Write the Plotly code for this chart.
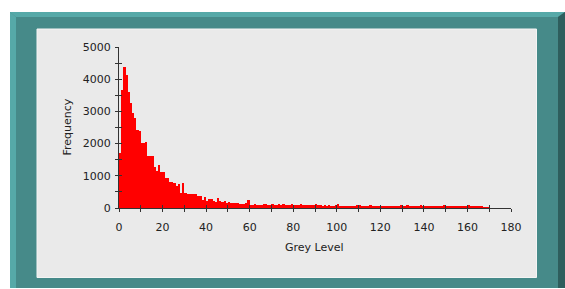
import plotly.graph_objects as go

# ---------------- data ----------------
grey_levels = list(range(0, 170))
frequency = [
    1700, 3660, 4390, 4130, 3610, 3250, 2940, 2785, 2420, 2400,   # 0-9
    2010, 2010, 2060, 1615, 1600, 1615, 1285, 1150, 1335, 1120,   # 10-19
    1110, 920, 920, 820, 820, 790, 680, 760, 470, 780,            # 20-29
    470, 430, 440, 420, 420, 420, 370, 380, 250, 350,             # 30-39
    230, 270, 290, 220, 200, 300, 210, 180, 210, 140,             # 40-49
    200, 160, 160, 160, 160, 135, 135, 135, 160, 250,             # 50-59
    100, 95, 135, 95, 105, 95, 125, 125, 100, 90,                 # 60-69
    125, 90, 90, 125, 90, 120, 90, 85, 90, 120,                   # 70-79
    85, 80, 85, 120, 80, 80, 85, 80, 80, 80,                      # 80-89
    115, 80, 80, 75, 80, 75, 80, 75, 75, 80,                      # 90-99
    110, 70, 65, 70, 65, 65, 70, 65, 65, 100,                     # 100-109
    100, 65, 65, 60, 65, 100, 65, 60, 60, 65,                     # 110-119
    60, 60, 65, 60, 60, 60, 65, 60, 60, 100,                      # 120-129
    60, 60, 100, 60, 60, 55, 60, 60, 100, 60,                     # 130-139
    55, 55, 60, 55, 55, 55, 55, 55, 55, 95,                       # 140-149
    55, 50, 50, 50, 50, 50, 50, 50, 50, 50,                       # 150-159
    90, 50, 45, 45, 45, 45, 40, 30, 25, 20,                       # 160-169
]

x_tick_values = list(range(0, 181, 10))
x_tick_labels = [str(v) if v % 20 == 0 else "" for v in x_tick_values]
y_tick_values = list(range(0, 5001, 500))
y_tick_labels = [str(v) if v % 1000 == 0 else "" for v in y_tick_values]

x_title = "Grey Level"
y_title = "Frequency"

# ---------------- layout geometry (pixels) ----------------
W, H = 565, 289
PL, PR, PT, PB = 119, 511, 47, 208   # plot area in pixels

def xp(px):
    return (px - PL) / (PR - PL)

def yp(py):
    return (PB - py) / (PB - PT)

TEAL = "#468A89"
TEAL_LIGHT = "#56A9A8"
TEAL_DARK = "#2E5E5D"
PANEL = "#EAEAEA"
FONT = "DejaVu Sans"
INK = "#222222"

def poly(points, color):
    d = "M " + " L ".join(f"{xp(a):.5f},{yp(b):.5f}" for a, b in points) + " Z"
    return dict(type="path", xref="paper", yref="paper", path=d,
                fillcolor=color, line=dict(width=0), layer="below")

shapes = [
    dict(type="rect", xref="paper", yref="paper",
         x0=xp(10), x1=xp(565), y0=yp(288), y1=yp(12),
         fillcolor=TEAL, line=dict(width=0), layer="below"),
    poly([(10, 12), (565, 12), (558, 17), (16, 17)], TEAL_LIGHT),
    poly([(10, 12), (16, 17), (16, 288), (10, 288)], TEAL_LIGHT),
    poly([(565, 12), (565, 288), (558, 288), (558, 17)], TEAL_DARK),
    dict(type="rect", xref="paper", yref="paper",
         x0=xp(37), x1=xp(536.5), y0=yp(277.5), y1=yp(29),
         fillcolor=PANEL, line=dict(color="#F4F4F4", width=1), layer="below"),
]

fig = go.Figure()
fig.add_trace(go.Bar(
    x=grey_levels, y=frequency, width=1, offset=0,
    marker=dict(color="#FF0000", line=dict(width=0)),
    hoverinfo="x+y", showlegend=False,
))
# invisible trace to activate the overlay axes (inner half of crossing ticks)
fig.add_trace(go.Scatter(x=[0], y=[0], xaxis="x2", yaxis="y2", mode="markers",
                         marker=dict(opacity=0), hoverinfo="skip", showlegend=False))

axis_common = dict(showgrid=False, zeroline=False, showline=True,
                   linecolor="#333333", linewidth=1, ticks="outside",
                   ticklen=3, tickwidth=1, tickcolor="#333333",
                   tickfont=dict(family=FONT, size=11, color=INK))

fig.update_layout(
    width=W, height=H, autosize=False,
    margin=dict(l=PL, r=W - PR, t=PT, b=H - PB, pad=0),
    paper_bgcolor="white", plot_bgcolor="rgba(0,0,0,0)",
    bargap=0,
    shapes=shapes,
    xaxis=dict(range=[0, 180], tickmode="array", tickvals=x_tick_values,
               ticktext=x_tick_labels, ticklabelstandoff=6, **axis_common),
    yaxis=dict(range=[0, 5000], tickmode="array", tickvals=y_tick_values,
               ticktext=y_tick_labels, ticklabelstandoff=2, **axis_common),
    xaxis2=dict(overlaying="x", anchor="y", side="bottom", range=[0, 180],
                tickmode="array", tickvals=x_tick_values, showticklabels=False,
                ticks="inside", ticklen=3, tickwidth=1, tickcolor="#333333",
                showgrid=False, zeroline=False, showline=False),
    yaxis2=dict(overlaying="y", anchor="x", side="left", range=[0, 5000],
                tickmode="array", tickvals=y_tick_values, showticklabels=False,
                ticks="inside", ticklen=3, tickwidth=1, tickcolor="#333333",
                showgrid=False, zeroline=False, showline=False),
    annotations=[
        dict(text=y_title, xref="paper", yref="paper", x=xp(67), y=yp(127.5),
             textangle=-90, showarrow=False, xanchor="center", yanchor="middle",
             font=dict(family=FONT, size=11, color=INK)),
        dict(text=x_title, xref="paper", yref="paper", x=xp(314), y=yp(247.5),
             showarrow=False, xanchor="center", yanchor="middle",
             font=dict(family=FONT, size=11, color=INK)),
    ],
)

fig.write_html(
    "out.html",
    config={"displayModeBar": False},
    post_script="document.body.style.margin='0';document.body.style.overflow='hidden';",
)
